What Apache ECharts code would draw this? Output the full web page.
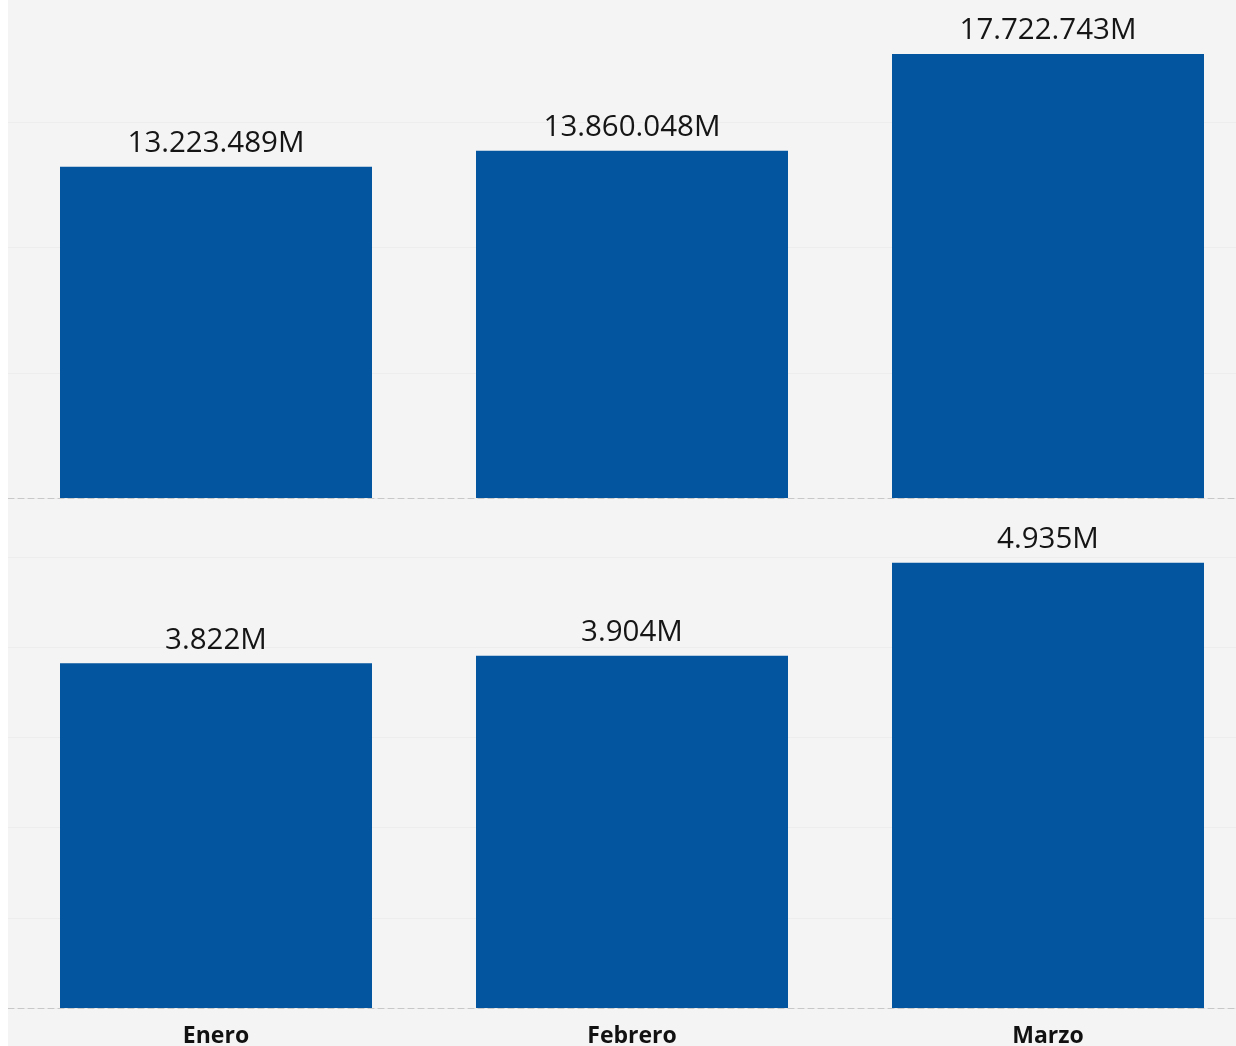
<!DOCTYPE html>
<html>
<head>
<meta charset="utf-8">
<script src="https://cdn.jsdelivr.net/npm/echarts@6/dist/echarts.min.js"></script>
<style>
html,body{margin:0;padding:0;background:#ffffff;overflow:hidden;width:1236px;height:1046px;}
#chart{position:absolute;left:8px;top:-6px;width:1248px;height:1052px;}
</style>
</head>
<body>
<div id="chart"></div>
<script>
const categories = ['Enero', 'Febrero', 'Marzo'];
const topValues = [13223489, 13860048, 17722743];
const bottomValues = [3822, 3904, 4935];

function fmt(v) {
  return String(Math.round(v)).replace(/\B(?=(\d{3})+(?!\d))/g, '.') + 'M';
}

const chart = echarts.init(document.getElementById('chart'), null, { width: 1248, height: 1052 });
const labelStyle = {
  show: true, position: 'top', distance: 8,
  fontFamily: 'Open Sans', fontSize: 29.5, color: '#151515',
  formatter: p => fmt(p.value)
};
const splitLine = { show: true, lineStyle: { color: '#ededed', width: 1 } };
const axisLine = { show: true, lineStyle: { color: '#c8c8c8', type: [6, 4], width: 1 } };

chart.setOption({
  backgroundColor: '#f4f4f4',
  animation: false,
  grid: [
    { left: 0, right: 0, top: 3, height: 501, containLabel: false, outerBoundsMode: 'none' },
    { left: 0, right: 0, top: 563, height: 451, containLabel: false, outerBoundsMode: 'none' }
  ],
  xAxis: [
    { type: 'category', gridIndex: 0, data: categories, axisLine: axisLine,
      axisTick: { show: false }, axisLabel: { show: false } },
    { type: 'category', gridIndex: 1, data: categories, axisLine: axisLine,
      axisTick: { show: false },
      axisLabel: { show: true, fontFamily: 'Open Sans', fontWeight: 'bold', fontSize: 23, color: '#111', margin: 17 } }
  ],
  yAxis: [
    { type: 'value', gridIndex: 0, min: 0, max: 20000000, interval: 5000000,
      axisLabel: { show: false }, axisLine: { show: false }, axisTick: { show: false }, splitLine: splitLine },
    { type: 'value', gridIndex: 1, min: 0, max: 5000, interval: 1000,
      axisLabel: { show: false }, axisLine: { show: false }, axisTick: { show: false }, splitLine: splitLine }
  ],
  series: [
    { type: 'bar', xAxisIndex: 0, yAxisIndex: 0, data: topValues, barWidth: '75%',
      itemStyle: { color: '#03559f' }, label: labelStyle },
    { type: 'bar', xAxisIndex: 1, yAxisIndex: 1, data: bottomValues, barWidth: '75%',
      itemStyle: { color: '#03559f' }, label: labelStyle }
  ]
});
</script>
</body>
</html>
